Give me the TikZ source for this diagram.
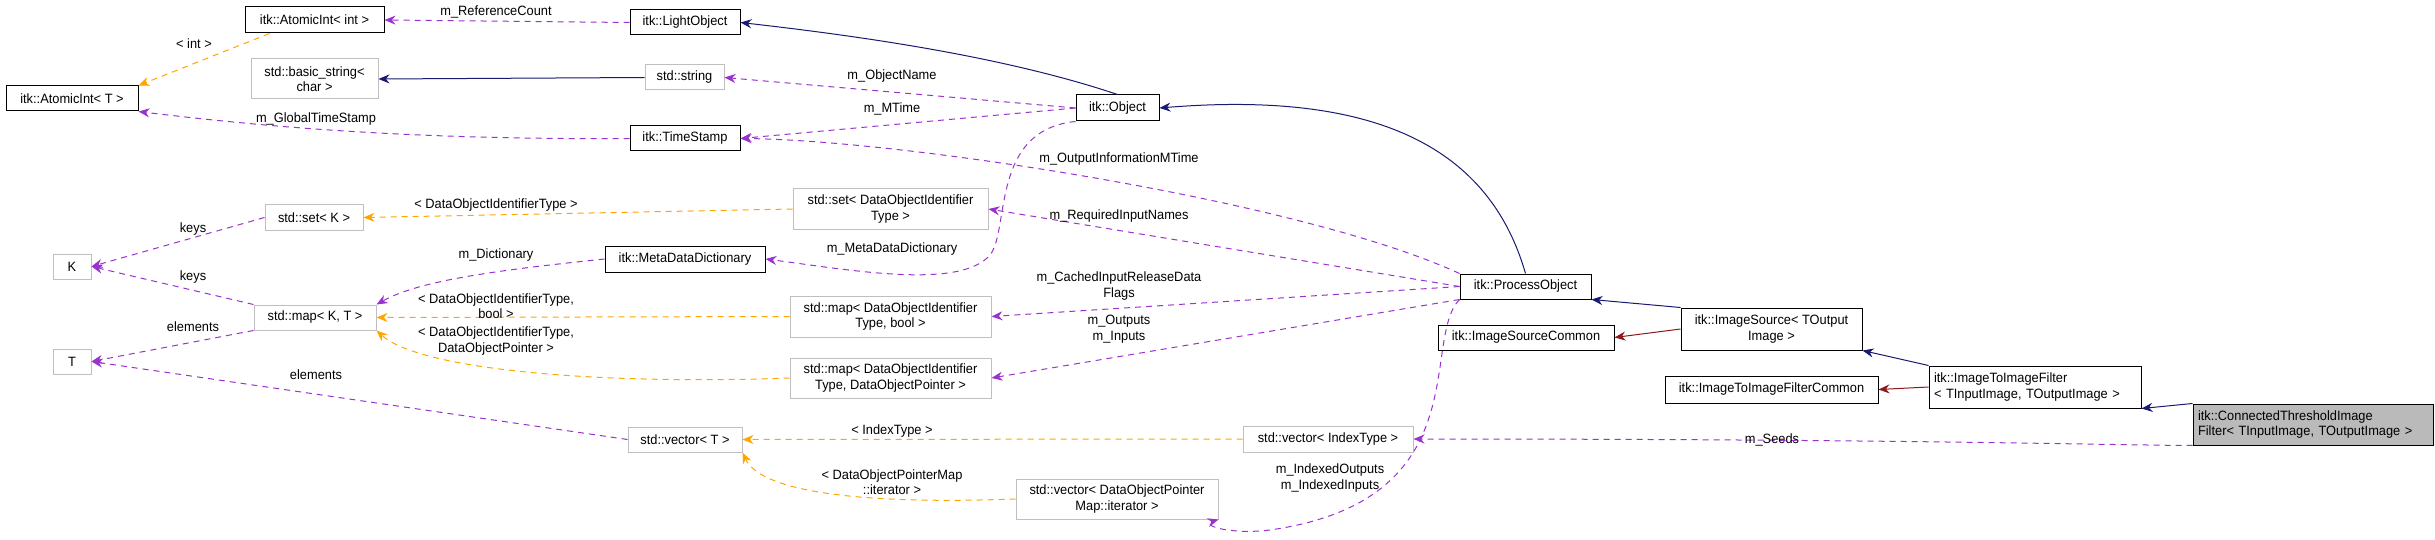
\documentclass[tikz,border=0pt]{standalone}
\usepackage{fontspec}
\setmainfont[FakeStretch=0.95]{Liberation Sans}
\usetikzlibrary{arrows.meta}
\definecolor{pur}{HTML}{9A32CD}
\definecolor{org}{HTML}{FFA500}
\definecolor{nav}{HTML}{191970}
\definecolor{fbr}{HTML}{8B1A1A}
\begin{document}
\begin{tikzpicture}[x=1pt,y=-1pt,
  box/.style={draw=black,line width=1pt,fill=white,inner sep=0pt,align=center,font=\fontsize{13.5}{15.5}\selectfont},
  gbox/.style={draw=black!25,line width=1pt,fill=white,inner sep=0pt,align=center,font=\fontsize{13.5}{15.5}\selectfont},
  lbl/.style={align=center,inner sep=0pt,font=\fontsize{13.5}{15.5}\selectfont},
  mem/.style={draw=pur,dashed,dash pattern=on 6pt off 5pt,line width=1pt,-{Stealth[length=11pt,width=9pt]}},
  tpl/.style={draw=org,dashed,dash pattern=on 6pt off 5pt,line width=1pt,-{Stealth[length=11pt,width=9pt]}},
  inh/.style={draw=nav,line width=1pt,-{Stealth[length=11pt,width=9pt]}},
  prv/.style={draw=fbr,line width=1pt,-{Stealth[length=11pt,width=9pt]}}]
\useasboundingbox (0,0) rectangle (2435,540);
\newcommand{\bx}[7]{\node[#1,minimum width=#4-#3,minimum height=#6-#5] (#2) at ({(#3+#4)/2},{(#5+#6)/2}) {#7};}
\bx{box}{aiint}{245}{384}{7}{33}{itk::AtomicInt< int >}
\bx{box}{light}{630}{740}{10}{35}{itk::LightObject}
\bx{box}{aiT}{6}{138}{86}{111}{itk::AtomicInt< T >}
\bx{gbox}{bstr}{251}{378}{59}{99}{std::basic\_string<\\char >}
\bx{gbox}{str}{645}{724}{65}{90}{std::string}
\bx{box}{ts}{630}{740}{126}{151}{itk::TimeStamp}
\bx{gbox}{setK}{265}{363}{205}{230}{std::set< K >}
\bx{gbox}{K}{53}{91}{254}{279}{K}
\bx{box}{mdd}{605}{765}{246}{272}{itk::MetaDataDictionary}
\bx{gbox}{mapKT}{254}{376}{305}{330}{std::map< K, T >}
\bx{gbox}{T}{53}{91}{349}{374}{T}
\bx{gbox}{vecT}{628}{742}{427}{452}{std::vector< T >}
\bx{box}{obj}{1076}{1159}{95}{121}{itk::Object}
\bx{gbox}{setD}{793}{988}{189}{229}{std::set< DataObjectIdentifier\\Type >}
\bx{gbox}{mapB}{790}{991}{296}{337}{std::map< DataObjectIdentifier\\Type, bool >}
\bx{gbox}{mapP}{790}{991}{358}{398}{std::map< DataObjectIdentifier\\Type, DataObjectPointer >}
\bx{box}{po}{1460}{1591}{274}{299}{itk::ProcessObject}
\bx{box}{isc}{1438}{1614}{325}{350}{itk::ImageSourceCommon}
\bx{gbox}{vecI}{1243}{1413}{426}{452}{std::vector< IndexType >}
\bx{gbox}{vecM}{1016}{1218}{479}{519}{std::vector< DataObjectPointer\\Map::iterator >}
\bx{box}{is}{1681}{1862}{308}{350}{itk::ImageSource< TOutput\\Image >}
\bx{box}{itic}{1665}{1878}{376}{403}{itk::ImageToImageFilterCommon}
\node[box,minimum width=212,minimum height=42,align=left,text width=202] (iti) at (2035,387) {itk::ImageToImageFilter\\< TInputImage, TOutputImage >};
\node[box,fill=black!27,minimum width=240,minimum height=41,align=left,text width=230] (ct) at (2313,424.5) {itk::ConnectedThresholdImage\\Filter< TInputImage, TOutputImage >};
% edges
\draw[mem] (light.west) -- (aiint.east);
\draw[tpl] (aiint.south west)++(25,0) coordinate (c1) -- (aiT.north east) ;
\draw[inh] (str.west) -- (bstr.east);
\draw[mem] (ts.west) .. controls (400,140) and (250,125) .. (aiT.south east);
\draw[inh] (obj.north) .. controls (1000,55) and (850,35) .. (light.east);
\draw[mem] (obj.west) -- (str.east);
\draw[mem] (obj.west) -- (ts.east);
\draw[mem] (obj.south west) .. controls (990,130) and (1010,230) .. (990,255) .. controls (960,290) and (850,270) .. (mdd.east);
\draw[inh] (po.north) .. controls (1490,150) and (1380,90) .. (obj.east);
\draw[mem] (po.north west) .. controls (1300,200) and (900,140) .. (ts.east);
\draw[mem] (po.west) -- (setD.east);
\draw[mem] (po.west) -- (mapB.east);
\draw[mem] (po.south west) -- (mapP.east);
\draw[mem] (po.south west) .. controls (1420,340) and (1480,500) .. (1270,530) .. controls (1230,535) and (1200,525) .. (vecM.south east);
\draw[tpl] (setD.west) -- (setK.east);
\draw[mem] (mdd.west) .. controls (500,270) and (420,280) .. (mapKT.north east);
\draw[tpl] (mapB.west) -- (mapKT.east);
\draw[tpl] (mapP.west) .. controls (600,385) and (420,370) .. (mapKT.south east);
\draw[mem] (setK.west) -- (K.east);
\draw[mem] (mapKT.north west) -- (K.east);
\draw[mem] (mapKT.south west) -- (T.east);
\draw[mem] (vecT.west) -- (T.east);
\draw[tpl] (vecI.west) -- (vecT.east);
\draw[tpl] (vecM.west) .. controls (850,505) and (760,490) .. (vecT.south east);
\draw[inh] (is.north west) -- (po.south east);
\draw[prv] (is.west) -- (isc.east);
\draw[inh] (iti.north west) -- (is.south east);
\draw[prv] (iti.west) -- (itic.east);
\draw[inh] (ct.north west) -- (iti.south east);
\draw[mem] (ct.south west) .. controls (2100,445) and (1900,439) .. (vecI.east);
% labels
\node[lbl] (l1) at (496,12) {m\_ReferenceCount};
\node[lbl] (l2) at (194,44) {< int >};
\node[lbl] (l3) at (316,119) {m\_GlobalTimeStamp};
\node[lbl] (l4) at (193,229) {keys};
\node[lbl] (l5) at (193,277) {keys};
\node[lbl] (l6) at (193,327) {elements};
\node[lbl] (l7) at (316,375) {elements};
\node[lbl] (l8) at (496,205) {< DataObjectIdentifierType >};
\node[lbl] (l9) at (496,255) {m\_Dictionary};
\node[lbl] (l10) at (496,306) {< DataObjectIdentifierType,\\bool >};
\node[lbl] (l11) at (496,341) {< DataObjectIdentifierType,\\DataObjectPointer >};
\node[lbl] (l12) at (892,76) {m\_ObjectName};
\node[lbl] (l13) at (892,109) {m\_MTime};
\node[lbl] (l14) at (1119,159) {m\_OutputInformationMTime};
\node[lbl] (l15) at (1119,216) {m\_RequiredInputNames};
\node[lbl] (l16) at (892,249) {m\_MetaDataDictionary};
\node[lbl] (l17) at (1119,286) {m\_CachedInputReleaseData\\Flags};
\node[lbl] (l18) at (1119,329) {m\_Outputs\\m\_Inputs};
\node[lbl] (l19) at (892,431) {< IndexType >};
\node[lbl] (l20) at (892,482) {< DataObjectPointerMap\\::iterator >};
\node[lbl] (l21) at (1330,478) {m\_IndexedOutputs\\m\_IndexedInputs};
\node[lbl] (l22) at (1772,440) {m\_Seeds};
\end{tikzpicture}
\end{document}
